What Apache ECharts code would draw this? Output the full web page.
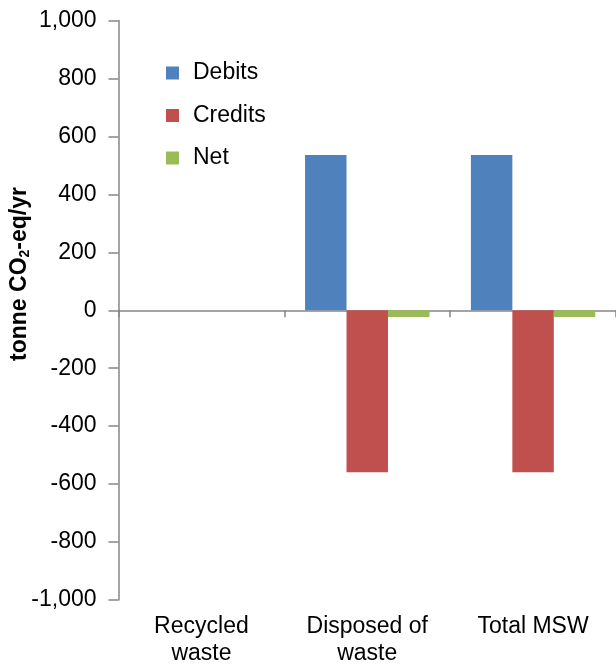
<!DOCTYPE html>
<html>
<head>
<meta charset="utf-8">
<style>
  html, body { margin: 0; padding: 0; background: #ffffff; }
  #chart { width: 616px; height: 667px; }
</style>
<script src="https://cdn.jsdelivr.net/npm/echarts@6/dist/echarts.min.js"></script>
</head>
<body>
<div id="chart"></div>
<script>
// Emission categories (MSW streams)
const categories = ['Recycled\nwaste', 'Disposed of\nwaste', 'Total MSW'];

// tonne CO2-eq/yr per category
const debits  = [0, 536, 536];
const credits = [0, -559, -559];
const net     = [0, -23, -23];

// Value axis range
const yMin = -1000;
const yMax = 1000;
const yStep = 200;

const FONT = '"Liberation Sans", Arial, sans-serif';
const AXIS_GREY = '#868686';
const FS = 23;

const chart = echarts.init(document.getElementById('chart'), null, { renderer: 'canvas' });

function fmt(v) {
  const s = Math.abs(v).toLocaleString('en-US');
  return (v < 0 ? '-' : '') + s;
}

const barBase = { type: 'bar', barGap: '0%', barCategoryGap: '25%', xAxisIndex: 0 };

chart.setOption({
  animation: false,
  textStyle: { fontFamily: FONT },
  grid: { left: 118.5, top: 20.5, width: 501, height: 579.5, containLabel: false },
  legend: {
    orient: 'vertical',
    left: 166,
    top: 61.5,
    padding: 0,
    itemWidth: 13,
    itemHeight: 13,
    itemGap: 19.5,
    icon: 'rect',
    textStyle: { fontSize: FS, color: '#000', fontFamily: FONT, lineHeight: 23, padding: [0, 0, 0, 9] },
    data: ['Debits', 'Credits', 'Net']
  },
  graphic: [{
    type: 'text',
    x: 20,
    y: 274,
    rotation: Math.PI / 2,
    style: {
      text: '{m|tonne CO}{s|2}{m|-eq/yr}',
      align: 'center',
      verticalAlign: 'middle',
      rich: {
        m: { fontSize: 23, fontWeight: 'bold', fontFamily: FONT, fill: '#000' },
        s: { fontSize: 14, fontWeight: 'bold', fontFamily: FONT, fill: '#000', padding: [10, 0, 0, 0] }
      }
    }
  }],
  xAxis: [{
    type: 'category',
    data: categories,
    axisLine: { onZero: true, lineStyle: { color: AXIS_GREY, width: 1.5 } },
    axisTick: { show: true, length: 7, lineStyle: { color: AXIS_GREY, width: 1.5 } },
    axisLabel: { show: false },
    splitLine: { show: false }
  }, {
    type: 'category',
    data: categories,
    position: 'bottom',
    axisLine: { show: false, onZero: false },
    axisTick: { show: false },
    axisLabel: {
      show: true,
      interval: 0,
      margin: 13,
      fontSize: FS,
      lineHeight: 27,
      color: '#000',
      fontFamily: FONT,
      align: 'center'
    },
    splitLine: { show: false }
  }],
  yAxis: {
    type: 'value',
    min: yMin,
    max: yMax,
    interval: yStep,
    axisLine: { show: true, lineStyle: { color: AXIS_GREY, width: 1.5 } },
    axisTick: { show: true, inside: false, length: 10, lineStyle: { color: AXIS_GREY, width: 1.5 } },
    axisLabel: { formatter: fmt, fontSize: FS, color: '#000', margin: 22, fontFamily: FONT },
    splitLine: { show: false }
  },
  series: [
    Object.assign({}, barBase, { name: 'Debits', data: debits, itemStyle: { color: '#4F81BD' } }),
    Object.assign({}, barBase, { name: 'Credits', data: credits, itemStyle: { color: '#C0504D' } }),
    Object.assign({}, barBase, { name: 'Net', data: net, itemStyle: { color: '#9BBB59' } })
  ]
});
</script>
</body>
</html>
